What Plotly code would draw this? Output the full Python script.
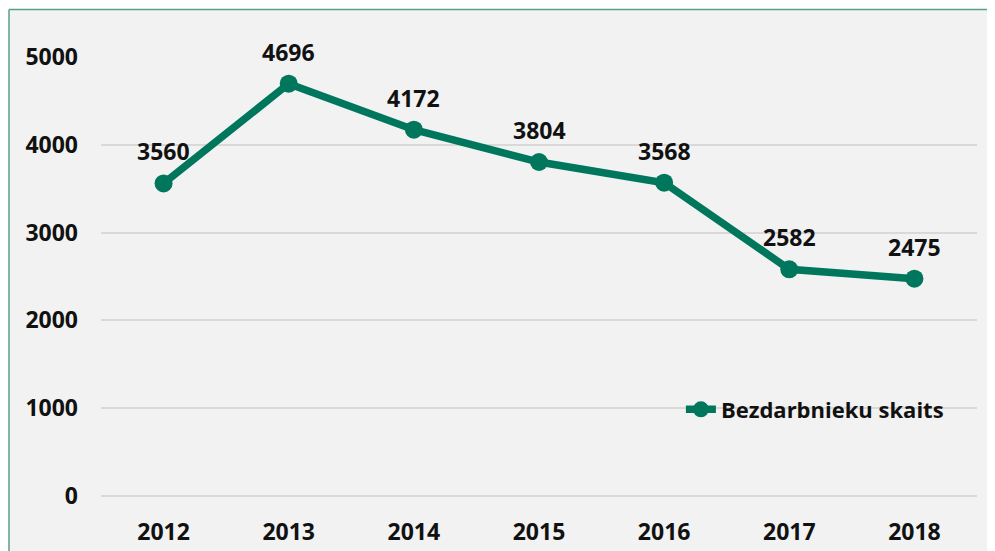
import plotly.graph_objects as go

years = ['2012', '2013', '2014', '2015', '2016', '2017', '2018']
unemployed = [3560, 4696, 4172, 3804, 3568, 2582, 2475]
y_ticks = [0, 1000, 2000, 3000, 4000, 5000]

green = '#00775C'
bold_font = dict(family='Open Sans', size=23, color='#111111', weight='bold')

fig = go.Figure()
fig.add_trace(go.Scatter(
    x=years, y=unemployed,
    mode='lines+markers',
    name='Bezdarbnieku skaits',
    line=dict(color=green, width=7.5),
    marker=dict(color=green, size=18),
    cliponaxis=False,
))

# value labels above each point (x given as category index)
for i, v in enumerate(unemployed):
    fig.add_annotation(x=i, y=v, text=str(v), showarrow=False,
                       yshift=32, font=bold_font)

# light panel with a thin border on the top and left (cropped chart frame)
x0 = (1 - 93) / 876
y1 = (493 - 1) / 444
fig.add_shape(type='rect', xref='paper', yref='paper', x0=x0, x1=1.1, y0=-0.2, y1=y1,
              fillcolor='#F2F2F2', line=dict(width=0), layer='below')
fig.add_shape(type='line', xref='paper', yref='paper', x0=x0, x1=x0, y0=-0.2, y1=y1,
              line=dict(color='#5A9E8E', width=1.5))
fig.add_shape(type='line', xref='paper', yref='paper', x0=x0, x1=1.1, y0=y1, y1=y1,
              line=dict(color='#5A9E8E', width=1.5))

fig.update_xaxes(
    type='category',
    categoryorder='array',
    categoryarray=years,
    range=[-0.5, len(years) - 0.5],
    showgrid=False,
    showline=False,
    ticks='',
    tickfont=bold_font,
    ticklabelstandoff=20,
)
fig.update_yaxes(
    range=[0, 5000],
    tickvals=y_ticks,
    showgrid=True,
    gridcolor='#D9D9D9',
    gridwidth=2,
    zeroline=True,
    zerolinecolor='#D9D9D9',
    zerolinewidth=2,
    ticks='',
    tickfont=bold_font,
    ticklabelstandoff=22,
)

fig.update_layout(
    width=995, height=551,
    margin=dict(l=93, r=26, t=49, b=58),
    paper_bgcolor='white',
    plot_bgcolor='#F2F2F2',
    showlegend=True,
    legend=dict(
        x=0.662, y=0.197, xanchor='left', yanchor='middle',
        bgcolor='rgba(0,0,0,0)',
        font=dict(family='Open Sans', size=22, color='#111111', weight='bold'),
    ),
    hovermode=False,
)

fig.write_html('out.html')
